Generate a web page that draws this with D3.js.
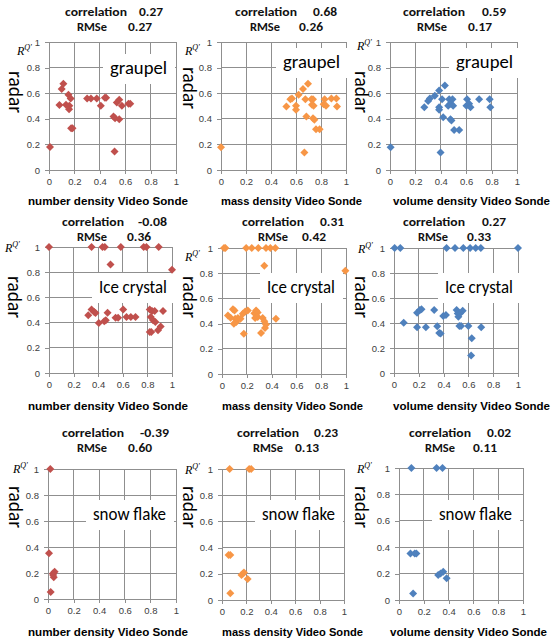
<!DOCTYPE html>
<html><head><meta charset="utf-8">
<script src="https://cdn.jsdelivr.net/npm/d3@7"></script>
<style>body{margin:0;background:#fff}svg{display:block}</style>
</head><body><svg id="c" width="553" height="644"></svg>
<script>
// ---------- data ----------
const categories = ["graupel", "Ice crystal", "snow flake"];
const xTitles = ["number density Video Sonde", "mass density Video Sonde", "volume density Video Sonde"];
const tickValues = [0, 0.2, 0.4, 0.6, 0.8, 1];
const tickLabels = ["0", "0.2", "0.4", "0.6", "0.8", "1"];
const correlations = ["0.27", "0.68", "0.59", "-0.08", "0.31", "0.27", "-0.39", "0.23", "0.02"];
const rmses = ["0.27", "0.26", "0.17", "0.36", "0.42", "0.33", "0.60", "0.13", "0.11"];
const seriesColors = ["#C0504D", "#F79646", "#4F81BD"];

const graupelNumber = [[0.008,0.18],[0.113,0.674],[0.10,0.632],[0.153,0.587],[0.171,0.559],[0.082,0.507],[0.134,0.509],[0.16,0.501],[0.158,0.475],[0.174,0.326],[0.185,0.326],[0.30,0.559],[0.33,0.559],[0.376,0.559],[0.44,0.564],[0.45,0.564],[0.408,0.501],[0.508,0.418],[0.52,0.405],[0.553,0.397],[0.516,0.144],[0.534,0.527],[0.553,0.548],[0.574,0.501],[0.626,0.517],[0.64,0.517]];
const graupelMass = [[0,0.178],[0.523,0.496],[0.555,0.553],[0.568,0.559],[0.621,0.587],[0.656,0.632],[0.696,0.674],[0.60,0.501],[0.60,0.47],[0.675,0.553],[0.683,0.418],[0.667,0.136],[0.723,0.553],[0.736,0.553],[0.728,0.509],[0.741,0.501],[0.736,0.405],[0.747,0.392],[0.76,0.319],[0.789,0.319],[0.829,0.553],[0.821,0.514],[0.84,0.501],[0.883,0.559],[0.923,0.559],[0.928,0.496]];
const graupelVolume = [[0.005,0.178],[0.27,0.49],[0.30,0.54],[0.314,0.559],[0.353,0.58],[0.387,0.621],[0.432,0.66],[0.387,0.49],[0.387,0.47],[0.41,0.553],[0.419,0.413],[0.398,0.136],[0.466,0.553],[0.458,0.501],[0.476,0.517],[0.492,0.553],[0.497,0.501],[0.476,0.397],[0.484,0.386],[0.505,0.313],[0.545,0.313],[0.602,0.501],[0.607,0.553],[0.623,0.517],[0.634,0.49],[0.702,0.553],[0.785,0.553],[0.79,0.49]];
const iceNumber = [[0,1],[0.346,1],[0.435,1],[0.454,1],[0.584,1],[0.77,1],[0.792,1],[0.892,1],[0.5,0.862],[1.0,0.82],[0.319,0.458],[0.346,0.503],[0.368,0.484],[0.378,0.476],[0.405,0.397],[0.449,0.41],[0.462,0.418],[0.476,0.479],[0.541,0.439],[0.562,0.439],[0.603,0.503],[0.63,0.444],[0.665,0.444],[0.703,0.444],[0.819,0.503],[0.838,0.492],[0.859,0.492],[0.927,0.492],[0.827,0.444],[0.846,0.418],[0.865,0.405],[0.819,0.325],[0.832,0.325],[0.886,0.339],[0.908,0.37]];
const iceMass = [[0.016,1],[0.027,1],[0.195,1],[0.24,1],[0.293,1],[0.355,1],[0.39,1],[0.43,1],[0.341,0.859],[0.995,0.82],[0.048,0.465],[0.069,0.447],[0.088,0.513],[0.101,0.504],[0.107,0.439],[0.115,0.413],[0.096,0.399],[0.128,0.444],[0.149,0.439],[0.168,0.478],[0.187,0.496],[0.208,0.504],[0.176,0.319],[0.261,0.483],[0.275,0.504],[0.288,0.488],[0.267,0.444],[0.288,0.452],[0.328,0.444],[0.341,0.418],[0.355,0.392],[0.347,0.366],[0.315,0.326],[0.435,0.439]];
const iceVolume = [[0.005,1],[0.051,1],[0.424,1],[0.492,1],[0.559,1],[0.614,1],[0.659,1],[0.70,1],[1.0,1],[0.078,0.403],[0.186,0.483],[0.208,0.504],[0.222,0.51],[0.186,0.366],[0.257,0.366],[0.324,0.504],[0.349,0.374],[0.365,0.321],[0.376,0.316],[0.397,0.456],[0.419,0.464],[0.505,0.504],[0.514,0.477],[0.519,0.451],[0.527,0.377],[0.541,0.377],[0.532,0.477],[0.554,0.499],[0.60,0.377],[0.627,0.279],[0.622,0.141],[0.703,0.366]];
const snowNumber = [[0.018,1.0],[0.008,0.351],[0.039,0.197],[0.052,0.21],[0.045,0.167],[0.04,0.185],[0.021,0.054]];
const snowMass = [[0.0625,1],[0.223,1],[0.239,1],[0.054,0.344],[0.068,0.344],[0.16,0.19],[0.17,0.2],[0.18,0.21],[0.21,0.16],[0.068,0.051]];
const snowVolume = [[0.1,1],[0.303,1],[0.351,1],[0.092,0.353],[0.127,0.353],[0.14,0.353],[0.114,0.05],[0.316,0.189],[0.335,0.2],[0.357,0.214],[0.384,0.164]];

const panelData = [graupelNumber, graupelMass, graupelVolume, iceNumber, iceMass, iceVolume, snowNumber, snowMass, snowVolume];

// ---------- layout ----------
const plots = [
  {l:49,r:176,t:42,b:170},{l:221,r:346,t:42,b:170},{l:390,r:517,t:42,b:170},
  {l:49,r:172,t:247,b:373},{l:222,r:346,t:248,b:374},{l:394,r:518,t:248,b:373},
  {l:48,r:176,t:469,b:599},{l:222,r:344,t:469,b:600},{l:399,r:523,t:468,b:600}
];
const titlePos = [ // corrLabelX, corrValX, rmseLabelX, rmseValX
  [65,139,77,128],[235,313,250,299],[403,482,417,468],
  [62,138,77,127],[242,320,258,302],[403,482,418,467],
  [62,140,77,128],[237,314,253,295],[409,487,425,473]
];
const rowTitleY = [[16,31],[226,241],[437,452]];
const rowXTitleY = [205,410,636];
const xTitleX = [[28,221,393],[28,222,393],[28,222,390]];
const xTitleW = [160,141,157];
const labelPos = [[110,74],[283,68],[456,68],[99,293],[267,293],[445,293],[93,520],[262,520],[439,520]];
const labelW = [57,68,73];
const rPos = [[17,55],[185,55],[357,50],[5,252],[185,261],[358,253],[13,473],[185,474],[357,473]];
const radarPos = [[16,92],[190,88],[362,92],[15,297],[190,297],[362,297],[16,507],[190,507],[362,507]];

const svg = d3.select("#c");
const gridColor = "#8f8f8f";
const diamond = d3.symbol(d3.symbolSquare, 32)();

panelData.forEach((data, i) => {
  const row = Math.floor(i / 3), col = i % 3;
  const p = plots[i];
  const x = d3.scaleLinear([0, 1], [p.l, p.r]);
  const y = d3.scaleLinear([0, 1], [p.b, p.t]);
  const g = svg.append("g");

  // grid
  g.selectAll(".gx").data(tickValues.slice(1)).join("line")
    .attr("x1", d => x(d)).attr("x2", d => x(d)).attr("y1", p.t).attr("y2", p.b)
    .attr("stroke", gridColor).attr("stroke-width", 1).attr("shape-rendering", "crispEdges");
  g.selectAll(".gy").data(tickValues.slice(1)).join("line")
    .attr("y1", d => y(d)).attr("y2", d => y(d)).attr("x1", p.l).attr("x2", p.r)
    .attr("stroke", gridColor).attr("stroke-width", 1).attr("shape-rendering", "crispEdges");

  // axes
  const fmt = d => tickLabels[tickValues.indexOf(d)];
  const ax = g.append("g").attr("transform", `translate(0,${p.b})`)
    .call(d3.axisBottom(x).tickValues(tickValues).tickFormat(fmt).tickSize(4).tickPadding(4));
  const ay = g.append("g").attr("transform", `translate(${p.l},0)`)
    .call(d3.axisLeft(y).tickValues(tickValues).tickFormat(fmt).tickSize(4).tickPadding(5));
  [ax, ay].forEach(a => {
    a.selectAll("path,line").attr("stroke", gridColor).attr("shape-rendering", "crispEdges");
    a.selectAll("text").attr("font-family", "Liberation Sans, Arial, sans-serif")
      .attr("font-size", 9.5).attr("fill", "#404040");
  });

  // category label with white box
  const [lx, ly] = labelPos[i];
  const lw = labelW[row];
  g.append("rect").attr("x", lx - 7).attr("y", ly - 20).attr("width", lw + 15).attr("height", 30).attr("fill", "#fff");
  g.append("text").attr("x", lx).attr("y", ly).text(categories[row])
    .attr("font-family", "Carlito, Calibri, Lato, sans-serif").attr("font-size", 18)
    .attr("fill", "#000").attr("textLength", lw).attr("lengthAdjust", "spacingAndGlyphs");

  // points
  g.selectAll(".pt").data(data).join("path")
    .attr("d", diamond)
    .attr("transform", d => `translate(${x(d[0])},${y(d[1])}) rotate(45)`)
    .attr("fill", seriesColors[col]);

  // titles
  const tp = titlePos[i];
  const [ty1, ty2] = rowTitleY[row];
  const tfont = t => t.attr("font-family", "Carlito, Calibri, Lato, sans-serif").attr("font-weight", "bold")
    .attr("font-size", 12).attr("fill", "#111").attr("lengthAdjust", "spacingAndGlyphs");
  g.append("text").attr("x", tp[0]).attr("y", ty1).text("correlation").call(tfont).attr("textLength", 62);
  g.append("text").attr("x", tp[1]).attr("y", ty1).text(correlations[i]).call(tfont)
    .attr("textLength", correlations[i].startsWith("-") ? 29 : 24);
  g.append("text").attr("x", tp[2]).attr("y", ty2).text("RMSe").call(tfont).attr("textLength", 30);
  g.append("text").attr("x", tp[3]).attr("y", ty2).text(rmses[i]).call(tfont).attr("textLength", 24);

  // x axis title
  g.append("text").attr("x", xTitleX[row][col]).attr("y", rowXTitleY[row]).text(xTitles[col])
    .attr("font-family", "Liberation Sans, Arial, sans-serif").attr("font-weight", "bold")
    .attr("font-size", 11.4).attr("fill", "#000")
    .attr("textLength", xTitleW[col]).attr("lengthAdjust", "spacingAndGlyphs");

  // y axis title "radar"
  const [rx, ry] = radarPos[i];
  g.append("text").attr("transform", `translate(${rx},${ry}) rotate(90)`)
    .attr("text-anchor", "middle").attr("dominant-baseline", "central")
    .text("radar").attr("font-family", "Carlito, Calibri, Lato, sans-serif").attr("font-size", 20)
    .attr("textLength", 42).attr("lengthAdjust", "spacingAndGlyphs");

  // R^Q' label
  const [qx, qy] = rPos[i];
  const rt = g.append("text").attr("x", qx).attr("y", qy)
    .attr("font-family", "Liberation Serif, Times New Roman, serif").attr("font-style", "italic")
    .attr("font-size", 12).attr("fill", "#000");
  rt.append("tspan").text("R");
  rt.append("tspan").attr("dy", -5).attr("font-size", 8).text("Q'");
});
</script></body></html>
